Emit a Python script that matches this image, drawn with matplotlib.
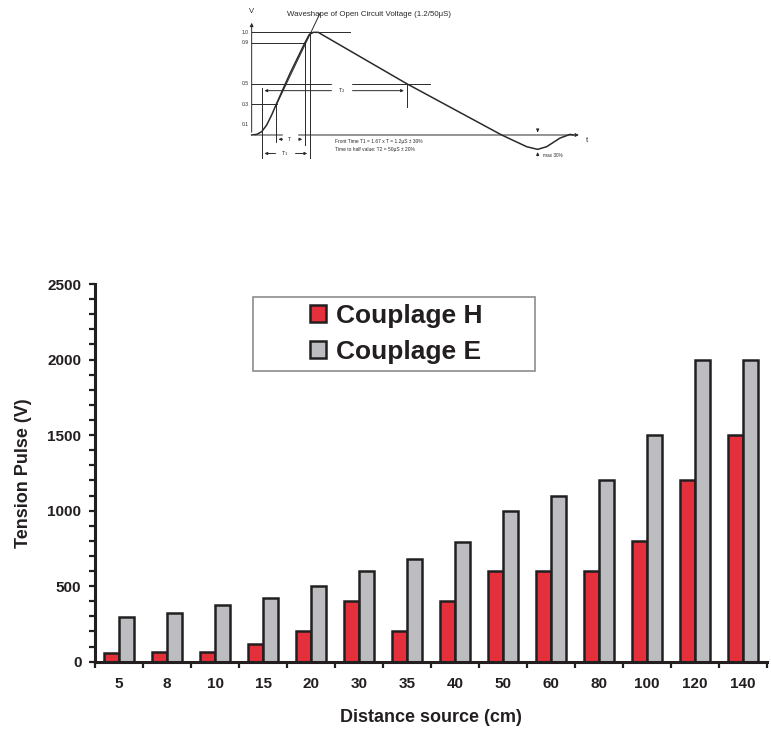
import matplotlib.pyplot as plt
import numpy as np
from matplotlib.patches import Rectangle

plt.rcParams['font.family'] = ['Liberation Sans', 'DejaVu Sans']

# bar chart data
distances = ['5', '8', '10', '15', '20', '30', '35', '40', '50', '60', '80', '100', '120', '140']
couplage_h = [55, 65, 65, 115, 200, 400, 200, 400, 600, 600, 600, 800, 1200, 1500]
couplage_e = [295, 325, 375, 420, 500, 600, 680, 790, 1000, 1100, 1200, 1500, 2000, 2000]

# waveform sketch on top (t arbitrary units, V normalised)
wave_t = [0, 1.5, 3, 4.5, 6, 7.5, 11.5, 16, 17.3, 18.5, 20, 21, 46.5, 75, 82.5, 85.8, 88.5, 92.5, 95.5, 96.5]
wave_v = [0, 0.006, 0.032, 0.097, 0.195, 0.308, 0.6, 0.9, 0.98, 1.0, 1.0, 0.98, 0.5, 0, -0.114, -0.14,
          -0.114, -0.03, 0.006, 0]
wave_levels = ['0.1', '0.3', '0.5', '0.9', '1.0']

EDGE = '#231F20'
RED = '#E3303A'
GREY = '#BCBDC0'

fig = plt.figure(figsize=(7.71, 7.31), dpi=100)

# ---- main bar chart
ax = fig.add_axes([95 / 771, 1 - 661.7 / 731, 672 / 771, 377.7 / 731])
x = np.arange(len(distances)) + 0.5
w = 0.31
ax.bar(x - w / 2, couplage_h, w, color=RED, edgecolor=EDGE, linewidth=1.8, label='Couplage H', zorder=2)
ax.bar(x + w / 2, couplage_e, w, color=GREY, edgecolor=EDGE, linewidth=1.8, label='Couplage E', zorder=2)

ax.set_xlim(0, len(distances))
ax.set_ylim(0, 2500)
ax.set_yticks(range(0, 2501, 500))
ax.set_yticks(range(0, 2501, 100), minor=True)
ax.set_xticks(np.arange(len(distances) + 1))
ax.set_xticklabels([])
ax.set_xticks(x, minor=True)
ax.set_xticklabels(distances, minor=True)
ax.tick_params(axis='x', which='minor', length=0, pad=11, labelsize=11)
ax.tick_params(axis='x', which='major', length=4.5, width=1.6, color=EDGE)
ax.tick_params(axis='y', which='both', length=4.3, width=1.6, color=EDGE, pad=5.5, labelsize=11)
for lab in ax.get_xticklabels(minor=True) + ax.get_yticklabels():
    lab.set_fontweight('bold')
    lab.set_color(EDGE)
for s in ['top', 'right']:
    ax.spines[s].set_visible(False)
for s in ['left', 'bottom']:
    ax.spines[s].set_linewidth(2.2)
    ax.spines[s].set_color(EDGE)

ax.set_xlabel('Distance source (cm)', fontsize=13, fontweight='bold', color=EDGE)
ax.set_ylabel('Tension Pulse (V)', fontsize=13, fontweight='bold', color=EDGE)
ax.xaxis.set_label_coords(0.5, -0.125)
ax.yaxis.set_label_coords(-0.094, 0.5)

# legend with a plain grey frame
ax.add_patch(Rectangle((253 / 771, 1 - 371 / 731), 282 / 771, 74 / 731, transform=fig.transFigure,
                       facecolor='white', edgecolor='#8C8C8C', linewidth=1.2, zorder=3, clip_on=False))
leg = ax.legend(loc='center', bbox_to_anchor=(396 / 771, 1 - 334 / 731), bbox_transform=fig.transFigure,
                frameon=False, prop={'size': 19, 'weight': 'bold'}, handlelength=0.62, handleheight=0.62,
                handletextpad=0.35, labelspacing=0.45)
for t in leg.get_texts():
    t.set_color(EDGE)
leg.set_zorder(4)

# ---- waveform sketch
ins = fig.add_axes([240 / 771, 1 - 170 / 731, 350 / 771, 170 / 731])
ins.set_xlim(-3.5, 101.5)
ins.set_ylim(-0.341, 1.315)
ins.axis('off')
lc = '#2A2A2A'
lw = 0.7
ins.plot(wave_t, wave_v, color=lc, lw=1.1)
ins.annotate('', xy=(0, 1.12), xytext=(0, 0), arrowprops=dict(arrowstyle='-|>', color=lc, lw=lw, mutation_scale=5))
ins.annotate('', xy=(99, 0), xytext=(0, 0), arrowprops=dict(arrowstyle='-|>', color=lc, lw=lw, mutation_scale=5))
ins.text(0, 1.2, 'V', fontsize=5.5, ha='center', va='center', color=lc)
ins.text(100.5, -0.05, 't', fontsize=5.5, ha='center', va='center', color=lc)
for lab in wave_levels:
    ins.text(-0.8, float(lab), lab, fontsize=3.6, ha='right', va='center', color=lc)

# reference levels and markers
ins.plot([0, 29.5], [1.0, 1.0], color=lc, lw=lw)
ins.plot([0, 16], [0.9, 0.9], color=lc, lw=lw)
ins.plot([0, 53.5], [0.5, 0.5], color=lc, lw=lw)
ins.plot([0, 7.5], [0.3, 0.3], color=lc, lw=lw)
ins.plot([7.2, 7.2], [0.308, -0.097], color=lc, lw=lw)
ins.plot([16, 16], [0.9, -0.097], color=lc, lw=lw)
ins.plot([17.5, 17.5], [1.0, -0.227], color=lc, lw=lw)
ins.plot([3, 3], [0.455, -0.227], color=lc, lw=lw)
ins.plot([46.5, 46.5], [0.5, 0.276], color=lc, lw=lw)
ins.plot([7.5, 20.5], [0.3, 1.185], color=lc, lw=lw)

arr = dict(arrowstyle='<|-|>', color=lc, lw=lw, mutation_scale=4)
ins.annotate('', xy=(3, 0.432), xytext=(46.5, 0.432), arrowprops=arr)
ins.text(27, 0.432, 'T$_2$', fontsize=4, ha='center', va='center', color=lc, backgroundcolor='white')
ins.annotate('', xy=(7.2, -0.042), xytext=(16, -0.042), arrowprops=arr)
ins.text(11.5, -0.042, 'T', fontsize=4, ha='center', va='center', color=lc, backgroundcolor='white')
ins.annotate('', xy=(3, -0.18), xytext=(17.5, -0.18), arrowprops=arr)
ins.text(10, -0.18, 'T$_1$', fontsize=4, ha='center', va='center', color=lc, backgroundcolor='white')

one = dict(arrowstyle='-|>', color=lc, lw=lw, mutation_scale=4)
ins.annotate('', xy=(85.8, 0), xytext=(85.8, 0.07), arrowprops=one)
ins.annotate('', xy=(85.8, -0.14), xytext=(85.8, -0.23), arrowprops=one)
ins.text(87.5, -0.2, 'max 30%', fontsize=3.4, ha='left', va='center', color=lc)

ins.text(25, -0.065, 'Front Time T1 = 1.67 x T = 1.2\u03bcS \u00b1 30%', fontsize=3.5, ha='left', va='center', color=lc)
ins.text(25, -0.146, 'Time to half value: T2 = 50\u03bcS \u00b1 20%', fontsize=3.5, ha='left', va='center', color=lc)
ins.text(10.5, 1.17, 'Waveshape of Open Circuit Voltage (1.2/50\u03bcS)', fontsize=5.7, ha='left', va='center',
         color=lc)

fig.savefig('out.png', dpi=100)
